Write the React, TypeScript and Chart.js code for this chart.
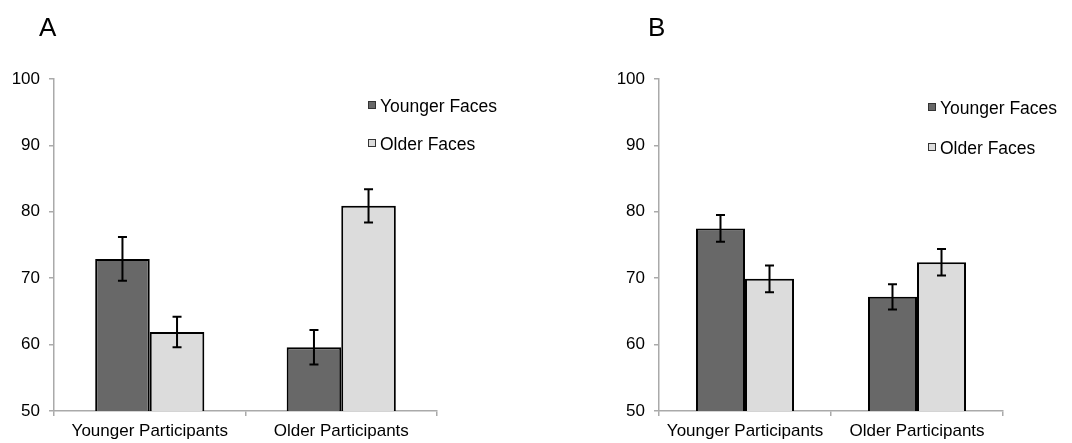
import { useEffect, useRef } from "react";
import { Chart, registerables } from "chart.js";

Chart.register(...registerables);

// ---------- data ----------
const categories = ["Younger Participants", "Older Participants"];
const seriesNames = ["Younger Faces", "Older Faces"];

const panelAYoungerFaces = [72.9, 59.6];
const panelAYoungerFacesErr = [3.3, 2.6];
const panelAOlderFaces = [61.9, 80.9];
const panelAOlderFacesErr = [2.3, 2.5];

const panelBYoungerFaces = [77.5, 67.2];
const panelBYoungerFacesErr = [2.0, 1.9];
const panelBOlderFaces = [69.9, 72.4];
const panelBOlderFacesErr = [2.0, 2.0];

const yMin = 50;
const yMax = 100;
const yStep = 10;

// ---------- styles ----------
const FONT = "'Liberation Sans', Arial, Helvetica, sans-serif";
const DARK = "#686868";
const LIGHT = "#dcdcdc";
const AXIS = "#aaaaaa";

const errorBarPlugin = {
  id: "errorBars",
  afterDatasetsDraw(chart: any) {
    const ctx = chart.ctx;
    const yScale = chart.scales.y;
    ctx.save();
    ctx.strokeStyle = "#000";
    ctx.lineWidth = 2;
    chart.data.datasets.forEach((ds: any, di: number) => {
      const meta = chart.getDatasetMeta(di);
      meta.data.forEach((el: any, i: number) => {
        const v = ds.data[i];
        const e = ds.errors[i];
        const x = el.x;
        const yt = yScale.getPixelForValue(v + e);
        const yb = yScale.getPixelForValue(v - e);
        const hw = 4.5;
        ctx.beginPath();
        ctx.moveTo(x, yt);
        ctx.lineTo(x, yb);
        ctx.moveTo(x - hw, yt);
        ctx.lineTo(x + hw, yt);
        ctx.moveTo(x - hw, yb);
        ctx.lineTo(x + hw, yb);
        ctx.stroke();
      });
    });
    ctx.restore();
  },
};

const customLegendPlugin = {
  id: "customLegend",
  afterDraw(chart: any, _args: any, opts: any) {
    const ctx = chart.ctx;
    ctx.save();
    ctx.font = `17.5px ${FONT}`;
    ctx.textBaseline = "alphabetic";
    ctx.textAlign = "left";
    chart.data.datasets.forEach((ds: any, i: number) => {
      const base = opts.baselines[i];
      const sq = 8;
      const sy = base - 11;
      ctx.fillStyle = ds.backgroundColor;
      ctx.fillRect(opts.boxX, sy, sq, sq);
      ctx.strokeStyle = "#333";
      ctx.lineWidth = 1;
      ctx.strokeRect(opts.boxX + 0.5, sy + 0.5, sq - 1, sq - 1);
      ctx.fillStyle = "#000";
      ctx.fillText(ds.label, opts.textX, base);
    });
    ctx.restore();
  },
};

type PanelProps = {
  left: number;
  width: number;
  yWidth: number;
  padRight: number;
  younger: number[];
  youngerErr: number[];
  older: number[];
  olderErr: number[];
  legend: { boxX: number; textX: number; baselines: number[] };
};

function Panel(p: PanelProps) {
  const ref = useRef<HTMLCanvasElement | null>(null);
  useEffect(() => {
    if (!ref.current) return;
    const chart = new Chart(ref.current, {
      type: "bar",
      data: {
        labels: categories,
        datasets: [
          {
            label: seriesNames[0],
            data: p.younger,
            errors: p.youngerErr,
            backgroundColor: DARK,
            borderColor: "#000",
            borderWidth: 2,
            borderSkipped: false,
            categoryPercentage: 0.57,
            barPercentage: 1.0,
          } as any,
          {
            label: seriesNames[1],
            data: p.older,
            errors: p.olderErr,
            backgroundColor: LIGHT,
            borderColor: "#000",
            borderWidth: 2,
            borderSkipped: false,
            categoryPercentage: 0.57,
            barPercentage: 1.0,
          } as any,
        ],
      },
      options: {
        responsive: false,
        animation: false,
        devicePixelRatio: 1,
        layout: { padding: { left: 0, top: 79, right: p.padRight, bottom: 0 } },
        plugins: {
          legend: { display: false },
          tooltip: { enabled: false },
          title: { display: false },
          customLegend: p.legend,
        } as any,
        scales: {
          x: {
            ticks: {
              color: "#000",
              font: { family: FONT, size: 17 },
              padding: 5,
              maxRotation: 0,
              autoSkip: false,
            },
            grid: {
              display: true,
              offset: true,
              drawOnChartArea: false,
              drawTicks: true,
              tickLength: 5,
              color: AXIS,
              lineWidth: 1.5,
            },
            border: { display: true, color: AXIS, width: 1.5 },
            afterFit: (s: any) => {
              s.height = 32;
            },
          },
          y: {
            min: yMin,
            max: yMax,
            ticks: {
              stepSize: yStep,
              color: "#000",
              font: { family: FONT, size: 17 },
              padding: 9,
            },
            grid: {
              display: true,
              drawOnChartArea: false,
              drawTicks: true,
              tickLength: 5,
              color: AXIS,
              lineWidth: 1.5,
            },
            border: { display: true, color: AXIS, width: 1.5 },
            afterFit: (s: any) => {
              s.width = p.yWidth;
            },
          },
        },
      },
      plugins: [errorBarPlugin, customLegendPlugin],
    });
    return () => chart.destroy();
  }, []);
  return (
    <canvas
      ref={ref}
      width={p.width}
      height={443}
      style={{ position: "absolute", left: p.left, top: 0, width: p.width, height: 443 }}
    />
  );
}

const labelStyle: any = {
  position: "absolute",
  fontFamily: FONT,
  fontSize: 26,
  lineHeight: "26px",
  color: "#000",
};

export default function App() {
  return (
    <div
      style={{
        position: "fixed",
        left: 0,
        top: 0,
        width: 1072,
        height: 443,
        background: "#fff",
        overflow: "hidden",
      }}
    >
      <Panel
        left={0}
        width={540}
        yWidth={54}
        padRight={103}
        younger={panelAYoungerFaces}
        youngerErr={panelAYoungerFacesErr}
        older={panelAOlderFaces}
        olderErr={panelAOlderFacesErr}
        legend={{ boxX: 368, textX: 380, baselines: [112, 150] }}
      />
      <Panel
        left={540}
        width={532}
        yWidth={119}
        padRight={69}
        younger={panelBYoungerFaces}
        youngerErr={panelBYoungerFacesErr}
        older={panelBOlderFaces}
        olderErr={panelBOlderFacesErr}
        legend={{ boxX: 388, textX: 400, baselines: [114, 154] }}
      />
      <div style={{ ...labelStyle, left: 39, top: 14 }}>A</div>
      <div style={{ ...labelStyle, left: 648, top: 14 }}>B</div>
    </div>
  );
}
